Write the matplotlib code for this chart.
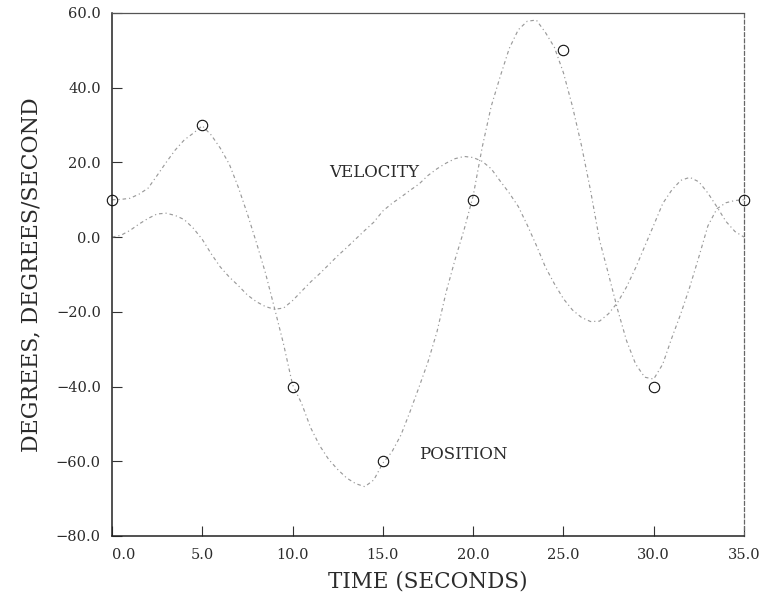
import matplotlib
matplotlib.use("Agg")
import matplotlib.pyplot as plt

# Data points (circles)
t_points = [0, 5, 10, 15, 20, 25, 30, 35]
pos_points = [10, 30, -40, -60, 10, 50, -40, 10]

# Curves at 0.5 s steps
t_curve = [i * 0.5 for i in range(71)]
position = [10, 10.1, 10.4, 11.5, 13.1, 16.5, 20, 23.3, 26, 27.8,
            29.8, 27.3, 23.8, 19.5, 13.3, 6.2, -1.5, -9.6, -19, -28.6,
            -39.5, -44.5, -51, -55.8, -59.5, -62.2, -64.5, -66, -66.8, -65,
            -60.5, -57.5, -53, -46.8, -40.2, -33.4, -25.3, -14.8, -6, 2,
            11, 24, 35, 43, 50.5, 55.5, 57.8, 58.1, 54.8, 50.8,
            44, 35, 24.5, 12.5, -0.8, -10, -19.4, -27.8, -34, -37.5,
            -38, -34, -27, -20.5, -13.3, -5.3, 3, 7.6, 9.2, 9.8,
            10]
velocity = [0, 0.5, 1.8, 3.5, 5, 6.2, 6.4, 5.8, 4.7, 2.4,
            -0.6, -4.5, -8, -10.7, -13, -15.5, -17.3, -18.6, -19.3, -19,
            -17, -14.5, -12, -9.8, -7.4, -5, -2.8, -0.5, 1.8, 4,
            7, 9, 10.7, 12.5, 14.2, 16.5, 18.3, 19.8, 21, 21.6,
            21.3, 20.3, 18.3, 15, 11.8, 8.2, 3.2, -2.2, -8, -12.5,
            -16.5, -19.5, -21.5, -22.6, -22.5, -20.5, -17.5, -13.3, -8.2, -2.5,
            3.2, 9, 12.6, 15.2, 16, 14.8, 11.8, 8.1, 4.2, 1.5,
            0]

x_ticks = [0, 5, 10, 15, 20, 25, 30, 35]
y_ticks = [-80, -60, -40, -20, 0, 20, 40, 60]

fig = plt.figure(figsize=(7.69, 5.95), dpi=100)
ax = fig.add_axes([0.1456, 0.0992, 0.8219, 0.879])

serif = "DejaVu Serif"
text_col = "#2b2b2b"
line_col = "#9a9a9a"
ax.plot(t_curve, position, color=line_col, lw=0.85, linestyle=(0, (3, 2.5, 1, 2.5)))
ax.plot(t_curve, velocity, color=line_col, lw=0.85, linestyle=(0, (3, 2.5, 1, 2.5)))
ax.plot(t_points, pos_points, linestyle="none", marker="o", markersize=7.5,
        markerfacecolor="none", markeredgecolor="#111111", markeredgewidth=0.8,
        clip_on=False, zorder=5)

ax.set_xlim(0, 35)
ax.set_ylim(-80, 60)
ax.set_xticks(x_ticks)
ax.set_yticks(y_ticks)
ax.set_xticklabels([f"{v:.1f}" for v in x_ticks], fontfamily=serif, fontsize=10.5,
                   color=text_col)
ax.set_yticklabels([f"{v:.1f}".replace("-", "\u2212") for v in y_ticks],
                   fontfamily=serif, fontsize=10.5, color=text_col)
ax.get_xticklabels()[0].set_horizontalalignment("left")
ax.tick_params(axis="both", direction="in", length=7, width=0.8, color="#333333")
ax.tick_params(axis="x", pad=9)
ax.tick_params(axis="y", pad=8)

for side in ["left", "bottom"]:
    ax.spines[side].set_linewidth(1.1)
    ax.spines[side].set_color("#222222")
ax.spines["top"].set_linewidth(0.9)
ax.spines["top"].set_color("#555555")
ax.spines["right"].set_linewidth(0.9)
ax.spines["right"].set_color("#666666")
ax.spines["right"].set_linestyle((0, (3, 2)))

ax.set_xlabel("TIME (SECONDS)", fontfamily=serif, fontsize=15.5, labelpad=6,
              color=text_col)
ax.set_ylabel("DEGREES, DEGREES/SECOND", fontfamily=serif, fontsize=15.8,
              labelpad=10, color=text_col)

ax.text(12.05, 17.2, "VELOCITY", fontfamily=serif, fontsize=12,
        ha="left", va="center", color=text_col)
ax.text(17.0, -58.1, "POSITION", fontfamily=serif, fontsize=12,
        ha="left", va="center", color=text_col)

fig.savefig("out.png", dpi=100)
